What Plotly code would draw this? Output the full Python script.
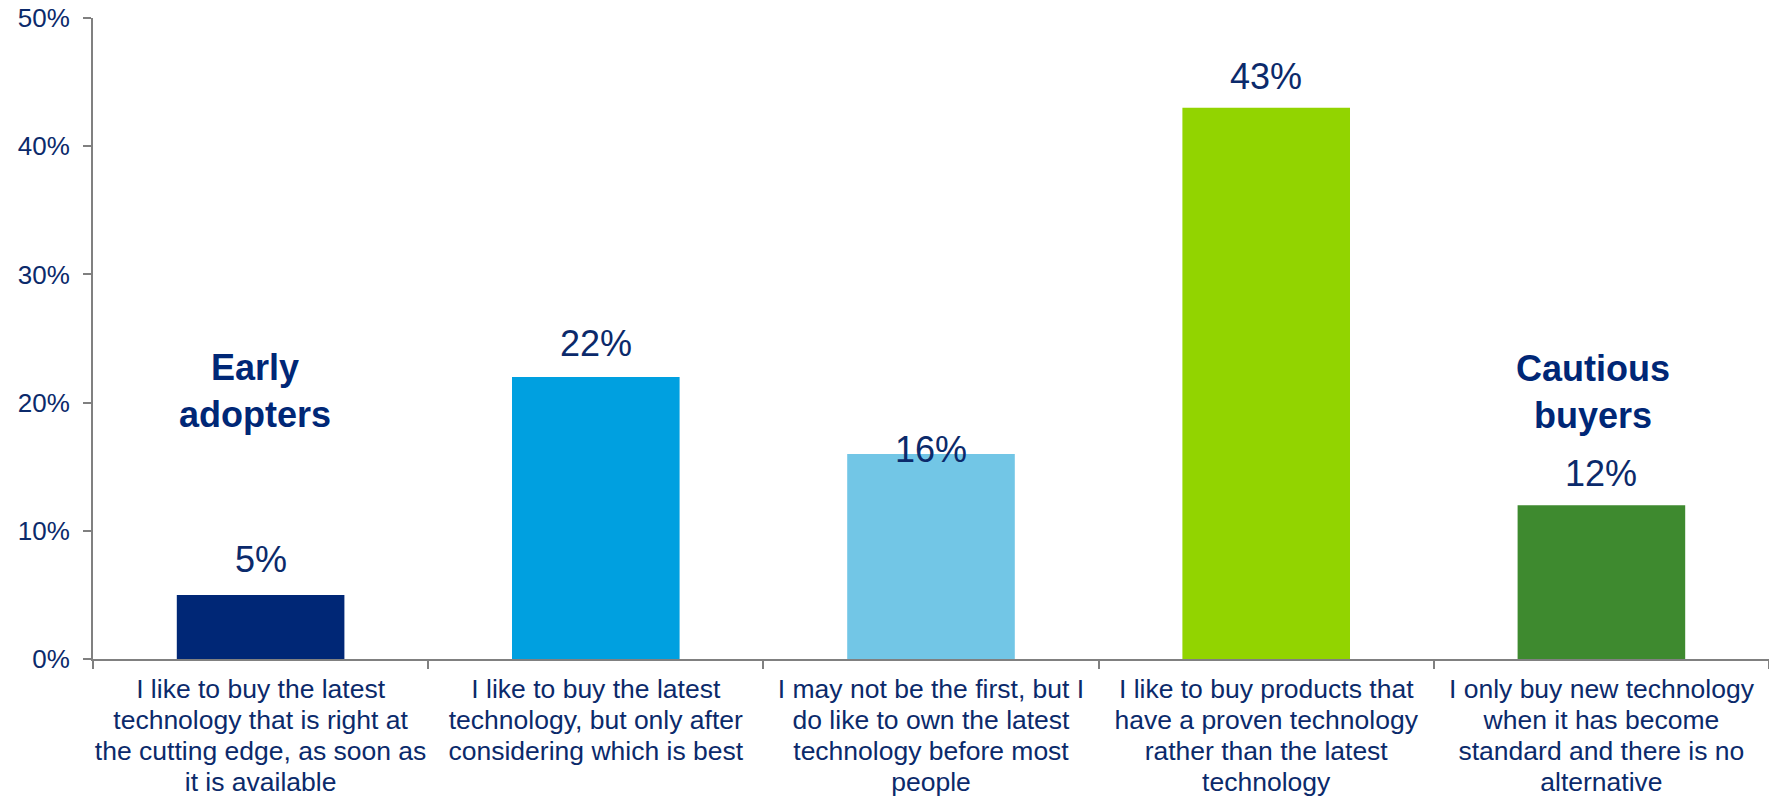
import plotly.graph_objects as go

categories = [
    "I like to buy the latest<br>technology that is right at<br>the cutting edge, as soon as<br>it is available",
    "I like to buy the latest<br>technology, but only after<br>considering which is best",
    "I may not be the first, but I<br>do like to own the latest<br>technology before most<br>people",
    "I like to buy products that<br>have a proven technology<br>rather than the latest<br>technology",
    "I only buy new technology<br>when it has become<br>standard and there is no<br>alternative",
]
values = [5, 22, 16, 43, 12]
bar_colors = ["#002776", "#00A0E0", "#72C6E6", "#92D400", "#3E8A2F"]
label_shift = [35, 33, 4, 31, 32]

NAVY = "#0B2A6B"
FONT = "Liberation Sans, Arial, sans-serif"


def big(label):
    return "<br>".join(f'<span style="font-size:26.5px">{p}</span>' for p in label.split("<br>"))


tick_text = [big(c) for c in categories]

fig = go.Figure()
fig.add_trace(go.Bar(
    x=list(range(len(values))), y=values,
    marker=dict(color=bar_colors, line=dict(width=0)),
    hoverinfo="skip",
))

annotations = []
for i, (v, s) in enumerate(zip(values, label_shift)):
    annotations.append(dict(
        x=i, y=v, text=f"{v}%", showarrow=False, yanchor="middle",
        yshift=s, font=dict(family=FONT, size=36, color=NAVY),
    ))

annotations.append(dict(
    x=0, y=20.9, text="<b>Early<br>adopters</b>", showarrow=False,
    xshift=-6, font=dict(family=FONT, size=36, color="#002776"),
))
annotations.append(dict(
    x=4, y=20.8, text="<b>Cautious<br>buyers</b>", showarrow=False,
    xshift=-8, font=dict(family=FONT, size=36, color="#002776"),
))

fig.update_layout(
    width=1769, height=798,
    margin=dict(l=93, r=0, t=18, b=139),
    plot_bgcolor="white", paper_bgcolor="white",
    bargap=0.5,
    showlegend=False,
    annotations=annotations,
    font=dict(family=FONT, color=NAVY),
)
fig.update_xaxes(
    type="category", automargin=False, tickangle=0,
    tickmode="array", tickvals=list(range(len(values))), ticktext=tick_text,
    showline=True, linecolor="#808080", linewidth=2,
    ticks="outside", tickson="boundaries", ticklen=8, tickcolor="#808080", tickwidth=2,
    ticklabelstandoff=8,
    tickfont=dict(family=FONT, size=24, color=NAVY),
    showgrid=False, zeroline=False,
)
fig.update_yaxes(
    range=[0, 50], dtick=10, ticksuffix="%", automargin=False,
    showline=True, linecolor="#808080", linewidth=2,
    ticks="outside", ticklen=8, tickcolor="#808080", tickwidth=2,
    ticklabelstandoff=8,
    tickfont=dict(family=FONT, size=26, color=NAVY),
    showgrid=False, zeroline=False,
)

fig.write_html("out.html")
